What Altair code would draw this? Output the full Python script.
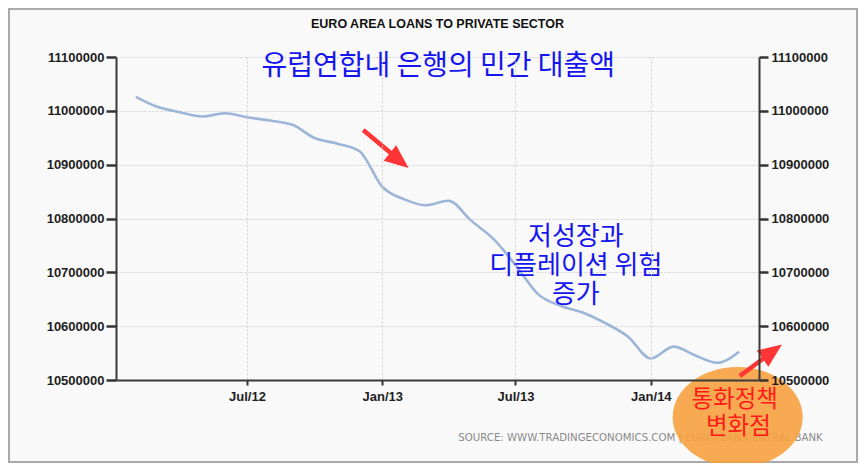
import altair as alt
import pandas as pd

# ---- data ----
months = ["2012-02-01", "2012-03-01", "2012-04-01", "2012-05-01", "2012-06-01", "2012-07-01",
          "2012-08-01", "2012-09-01", "2012-10-01", "2012-11-01", "2012-12-01", "2013-01-01",
          "2013-02-01", "2013-03-01", "2013-04-01", "2013-05-01", "2013-06-01", "2013-07-01",
          "2013-08-01", "2013-09-01", "2013-10-01", "2013-11-01", "2013-12-01", "2014-01-01",
          "2014-02-01", "2014-03-01", "2014-04-01", "2014-05-01"]
loans = [11026000, 11007500, 10997500, 10989500, 10995500, 10988000,
         10982000, 10974000, 10949500, 10939000, 10925000, 10859000,
         10835000, 10824500, 10833000, 10797000, 10762000, 10713500,
         10659000, 10637500, 10625000, 10605000, 10580500, 10540000,
         10562000, 10546500, 10532000, 10552500]

y_ticks = [10500000, 10600000, 10700000, 10800000, 10900000, 11000000, 11100000]
x_tick_dates = [(2012, 7), (2013, 1), (2013, 7), (2014, 1)]

title_text = ["EURO AREA LOANS TO PRIVATE SECTOR"]
title_date = ["2013-03-17"]
title_value = [11161000]

source_text = ["SOURCE:  WWW.TRADINGECONOMICS.COM  |  EUROPEAN  CENTRAL  BANK"]
source_date = ["2013-12-18"]
source_value = [10392000]

# annotation texts (placed in data coordinates)
blue_labels = ["유럽연합내 은행의 민간 대출액", "저성장과", "디플레이션 위험", "증가"]
blue_dates = ["2013-03-18", "2013-09-21", "2013-09-21", "2013-09-21"]
blue_values = [11081400, 10765000, 10711000, 10657000]
blue_sizes = [28, 26, 26, 26]

red_labels = ["통화정책", "변화점"]
red_dates = ["2014-04-25", "2014-04-30"]
red_values = [10462000, 10412500]

ellipse_date = ["2014-04-29"]
ellipse_value = [10431000]

arrow_x1 = ["2012-12-06", "2014-05-02"]
arrow_y1 = [10964400, 10507400]
arrow_x2 = ["2013-01-19", "2014-06-11"]
arrow_y2 = [10914200, 10548300]
head_dates = ["2013-01-24", "2014-06-15"]
head_values = [10907700, 10552900]
head_angles = [129, 54]

# ---- tables ----
df = pd.DataFrame({"date": months, "value": loans})
blue_df = pd.DataFrame({"date": blue_dates, "value": blue_values, "label": blue_labels,
                        "size": blue_sizes})
red_df = pd.DataFrame({"date": red_dates, "value": red_values, "label": red_labels})
ell_df = pd.DataFrame({"date": ellipse_date, "value": ellipse_value})
src_df = pd.DataFrame({"date": source_date, "value": source_value, "label": source_text})
ttl_df = pd.DataFrame({"date": title_date, "value": title_value, "label": title_text})
arrow_df = pd.DataFrame({"date": arrow_x1, "y1": arrow_y1, "date2": arrow_x2, "y2": arrow_y2})
head_df = pd.DataFrame({"date": head_dates, "value": head_values, "angle": head_angles})

W, H = 643, 323

xscale = alt.Scale(domain=[alt.DateTime(year=2012, month=1, date=5),
                           alt.DateTime(year=2014, month=5, date=28)], nice=False)
yscale = alt.Scale(domain=[10500000, 11100000], nice=False, zero=False)

axis_common = dict(labelFont="Liberation Sans", labelFontWeight="bold", labelFontSize=13,
                   labelColor="#1e1e1e", tickColor="#333333", domainColor="#3a3a3a",
                   domainWidth=2, gridColor="#cfcfcf", gridDash=[2, 2], gridWidth=1,
                   title=None)

x_axis = alt.Axis(values=[alt.DateTime(year=y, month=m, date=1) for y, m in x_tick_dates],
                  format="%b/%y", tickSize=5, tickWidth=2, labelPadding=5, grid=True,
                  zindex=1, **axis_common)
y_left = alt.Axis(values=y_ticks, format="d", orient="left", tickSize=10, tickWidth=2.5,
                  labelPadding=2, grid=True, **axis_common)
y_right = alt.Axis(values=y_ticks, format="d", orient="right", tickSize=9, tickWidth=2.5,
                   labelPadding=3, grid=False, zindex=1, **axis_common)

X = alt.X("date:T", scale=xscale, axis=x_axis)


def Yn(field="value:Q"):
    return alt.Y(field, scale=yscale, axis=None)


line = alt.Chart(df).mark_line(color="#9db5d6", strokeWidth=2.6, interpolate="monotone").encode(
    x=X, y=alt.Y("value:Q", scale=yscale, axis=y_left))

right = alt.Chart(df).mark_line(opacity=0).encode(
    x=X, y=alt.Y("value:Q", scale=yscale, axis=y_right))

title = alt.Chart(ttl_df).mark_text(font="Liberation Sans", fontSize=12.5, fontWeight="bold",
                                    color="#111111", align="center", baseline="middle").encode(
    x=X, y=Yn(), text="label:N")

source = alt.Chart(src_df).mark_text(font="DejaVu Sans", fontSize=10.2, color="#8a8a8a",
                                     align="center", baseline="middle").encode(
    x=X, y=Yn(), text="label:N")

ellipse_path = "M-1,0 A1,0.77 0 1,0 1,0 A1,0.77 0 1,0 -1,0 Z"
ellipse = alt.Chart(ell_df).mark_point(shape=ellipse_path, filled=True, fill="#f6a13f",
                                       fillOpacity=0.9, strokeWidth=0, size=16900).encode(
    x=X, y=Yn())

arrows = alt.Chart(arrow_df).mark_rule(color="#ff3535", strokeWidth=4.5).encode(
    x=X, x2="date2:T", y=Yn("y1:Q"), y2="y2:Q")

head_path = "M0,-1 L0.83,1 L-0.83,1 Z"
heads = alt.Chart(head_df).mark_point(shape=head_path, filled=True, fill="#ff3535",
                                      strokeWidth=0, size=576, opacity=1).encode(
    x=X, y=Yn(), angle=alt.Angle("angle:Q", scale=None))

blue_text = alt.Chart(blue_df).mark_text(font="Noto Sans CJK KR", color="#1515ee",
                                         align="center", baseline="middle").encode(
    x=X, y=Yn(), text="label:N", size=alt.Size("size:Q", scale=None, legend=None))

red_text = alt.Chart(red_df).mark_text(font="Noto Sans CJK KR", fontSize=23.5, color="#ff1a1a",
                                       align="center", baseline="middle").encode(
    x=X, y=Yn(), text="label:N")

frame = alt.Chart(pd.DataFrame({"k": [0]})).mark_rect(
    fillOpacity=0, stroke="#a9a9a9", strokeWidth=2).encode(
    x=alt.value(-107), x2=alt.value(741), y=alt.value(-48), y2=alt.value(405))

chart = alt.layer(
    frame, line, right, title, source, ellipse, arrows, heads, blue_text, red_text
).resolve_axis(y="independent").properties(
    width=W, height=H,
    autosize=alt.AutoSizeParams(type="none"),
    padding={"left": 108, "top": 49, "right": 100, "bottom": 83},
).configure(background="#f9f9f9").configure_view(stroke=None)

chart.save("out.html", embed_options={"renderer": "svg", "actions": False})
